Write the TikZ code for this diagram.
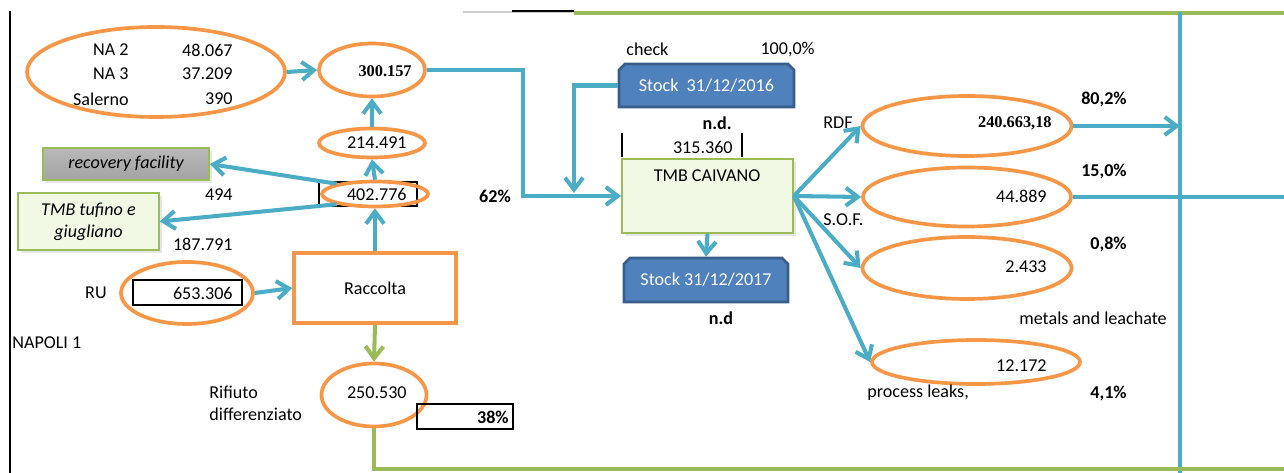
\documentclass[tikz,border=0pt]{standalone}
\usepackage{fontspec}
\setmainfont{Carlito}
\newfontfamily\numfont{Liberation Serif}
\usetikzlibrary{arrows.meta,shapes.geometric,shapes.misc,shadows}
\definecolor{offorange}{HTML}{F79646}
\definecolor{offblue}{HTML}{4BACC6}
\definecolor{offgreen}{HTML}{9BBB59}
\definecolor{stockfill}{HTML}{4F81BD}
\definecolor{stockline}{HTML}{385D8A}
\definecolor{tmbfill}{HTML}{F1F9E5}
\begin{document}
\fontsize{10.3}{12.4}\selectfont
\begin{tikzpicture}[x=0.2mm, y=-0.2mm,
    flow/.style={draw=offblue, line width=2.3pt, -{Straight Barb[length=2.4mm,width=3.6mm]}},
    sortflow/.style={draw=offgreen, line width=2.3pt, -{Straight Barb[length=2.4mm,width=3.6mm]}}]
\tikzset{oval/.style={ellipse, draw=offorange, line width=2.1pt, inner sep=0pt}}
\tikzset{val/.style={anchor=east, inner sep=0pt}}
\tikzset{lbl/.style={anchor=west, inner sep=0pt}}
\tikzset{pct/.style={anchor=east, inner sep=0pt, font=\bfseries}}
\tikzset{stock/.style={chamfered rectangle, chamfered rectangle corners={north west,north east},
                       chamfered rectangle xsep=0.6mm, chamfered rectangle ysep=0.6mm,
                       fill=stockfill, draw=stockline, line width=1.5pt, text=white, inner sep=0pt}}
\tikzset{plant/.style={rectangle, draw=offgreen, line width=1pt, inner sep=0pt,
                       drop shadow={opacity=0.2, shadow xshift=0.6mm, shadow yshift=-0.6mm}}}
\useasboundingbox (0,0) rectangle (1284,473);
% frame lines
\draw[line width=1.5pt] (10,11) -- (10,473);
\draw[gray!40, line width=1pt] (463,12) -- (574,12);
\draw[line width=1.3pt] (512,11) -- (574,11);
\coordinate (bustop) at (1180,12);
\coordinate (busbot) at (1180,473);
\coordinate (rim) at (1284,13);
\draw[offgreen, line width=2pt] (574,13) -- (rim);
\draw[offblue, line width=2.3pt] (bustop) -- (busbot);
% inputs
\node[oval, minimum width=51.6mm, minimum height=18mm] (na) at (156,72) {};
\node[val] (na2) at (129,50) {NA 2};
\node[val] (na2v) at (233,50) {48.067};
\node[val] (na3) at (129,74) {NA 3};
\node[val] (na3v) at (233,74) {37.209};
\node[val] (sa) at (129,99) {Salerno};
\node[val] (sav) at (233,99) {390};
\node[oval, minimum width=21.2mm, minimum height=10.6mm] (tot) at (372,70) {};
\node[val, font=\numfont\fontsize{9.3}{11}\selectfont\bfseries] (totv) at (412,71) {300.157};
\node[oval, minimum width=21.2mm, minimum height=5.8mm] (sel) at (372,143) {};
\node[val] (selv) at (407,143) {214.491};
\draw[line width=1.3pt] (319,182) rectangle (417,206);
\node[oval, minimum width=21.2mm, minimum height=5mm] (sep) at (375,194) {};
\node[val] (sepv) at (407,194) {402.776};
\node[plant, top color=gray!55, bottom color=gray!72, minimum width=33.2mm, minimum height=6.4mm,
      font=\itshape] (rec) at (126,164) {recovery facility};
\node[plant, fill=tmbfill, minimum width=28.2mm, minimum height=11.4mm, align=center,
      font=\itshape] (tuf) at (88.5,221.5) {TMB tufino e\\giugliano};
\node[val] (recv) at (233,195) {494};
\node[val] (tufv) at (233,244) {187.791};
\node[rectangle, draw=offorange, line width=2.1pt, minimum width=32.4mm, minimum height=14mm] (rac) at (375,288) {Raccolta};
\node[oval, minimum width=26.4mm, minimum height=12.4mm] (ru) at (187,293) {};
\draw[line width=1.3pt] (133,280) rectangle (242,305);
\node[val] (ruv) at (233,293) {653.306};
\node[val] (rul) at (107,293) {RU};
\node[lbl] (city) at (12,343) {NAPOLI 1};
\node[oval, minimum width=21mm, minimum height=12.6mm] (diff) at (374,395) {};
\node[val] (diffv) at (407,393) {250.530};
\node[lbl, align=left] (diffl) at (209,403) {Rifiuto\\differenziato};
\node[draw, line width=1.3pt, minimum width=19.2mm, minimum height=5mm, inner sep=0pt] (dbox) at (465,416.5) {};
\node[pct] (dpct) at (509,417) {38\%};
\node[pct, anchor=center] (upct) at (495,196) {62\%};
% TMB Caivano
\node[lbl] (chk) at (626,49) {check};
\node[val] (chkv) at (815,49) {100,0\%};
\node[stock, minimum width=35mm, minimum height=8.6mm] (stk16) at (706.5,85.5) {Stock\ \ 31/12/2016};
\node[pct] (nd16) at (732,123) {n.d.};
\draw[line width=1.3pt] (622,133) -- (622,157) (742,133) -- (742,157);
\node[val] (cap) at (733,147) {315.360};
\node[plant, fill=tmbfill, minimum width=34.2mm, minimum height=14.8mm] (tmb) at (707.5,196) {};
\node (tmbt) at (707,176) {TMB CAIVANO};
\node[stock, minimum width=32.8mm, minimum height=8.8mm] (stk17) at (706,280) {Stock 31/12/2017};
\node[pct, anchor=center] (nd17) at (721,318) {n.d};
% outputs
\node[oval, minimum width=41.8mm, minimum height=12mm] (rdf) at (967,126) {};
\node[val, font=\numfont\fontsize{9.3}{11}\selectfont\bfseries] (rdfv) at (1052,123) {240.663,18};
\node[oval, minimum width=41.6mm, minimum height=11.8mm] (sof) at (967,197) {};
\node[val] (sofv) at (1047,196) {44.889};
\node[oval, minimum width=41.8mm, minimum height=12.4mm] (met) at (967,268) {};
\node[val] (metv) at (1047,267) {2.433};
\node[oval, minimum width=41.6mm, minimum height=8.8mm] (lea) at (976,362) {};
\node[val] (leav) at (1047,366) {12.172};
\node[lbl] (rdfl) at (823,123) {RDF};
\node[lbl] (sofl) at (823,220) {S.O.F.};
\node[lbl] (metl) at (1019,318) {metals and leachate};
\node[lbl] (leal) at (867,393) {process leaks,};
\node[pct] (rdfp) at (1127,99) {80,2\%};
\node[pct] (sofp) at (1127,171) {15,0\%};
\node[pct] (metp) at (1127,244) {0,8\%};
\node[pct] (leap) at (1127,393) {4,1\%};
% connectors
\coordinate (join) at (574,193);
\draw[flow] (na.east) -- (tot.west);
\draw[flow] (sel.north) -- (tot.south);
\draw[flow] (sep.north) -- (sel.south);
\draw[flow] (rac.north) -- (sep.south);
\draw[flow] (sep.165) -- (rec.east);
\draw[flow] (sep.195) -- (tuf.east);
\draw[flow] (ru.east) -- (rac.west);
\draw[sortflow] (rac.south) -- (diff.north);
\draw[offgreen, line width=2.3pt] (diff.south) |- (1284,469);
\draw[flow] (tot.east) -| (523,196) -- (tmb.west);
\draw[flow] (stk16.west) -| (join);
\draw[flow] (tmb.south) -- (stk17.north);
\draw[flow] (tmb.east) -- (rdf.west);
\draw[flow] (tmb.east) -- (sof.west);
\draw[flow] (tmb.east) -- (met.west);
\draw[flow] (tmb.east) -- (lea.west);
\draw[flow] (rdf.east) -- (rdf.east -| bustop);
\draw[offblue, line width=2.3pt] (sof.east) -- (sof.east -| rim);
\end{tikzpicture}
\end{document}
